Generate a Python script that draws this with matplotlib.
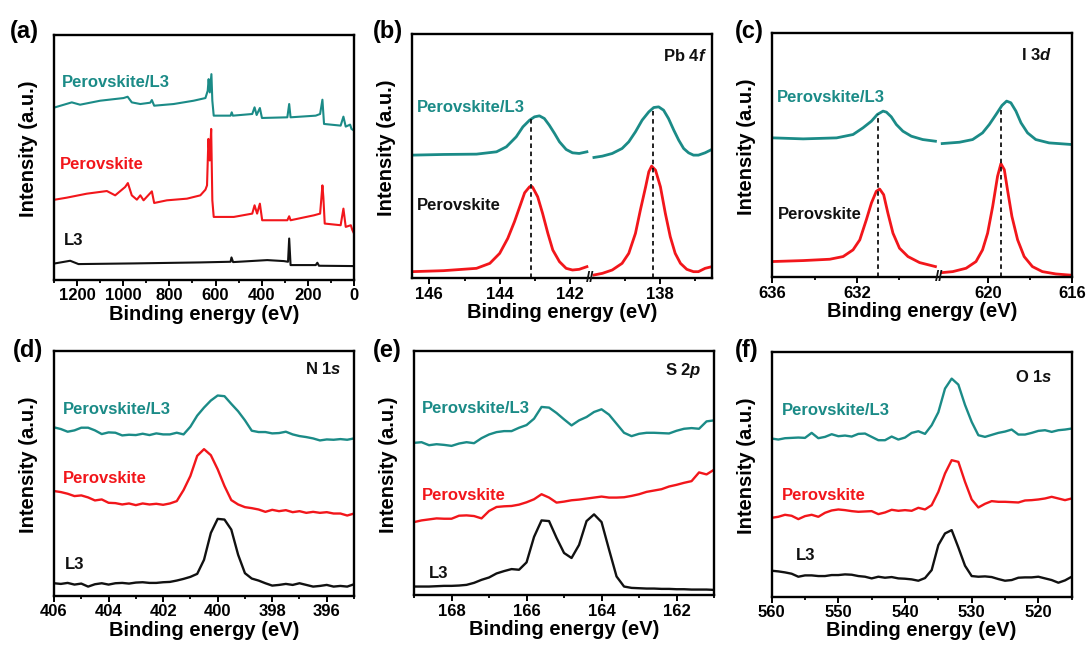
import numpy as np
import matplotlib
matplotlib.use("Agg")
import matplotlib.pyplot as plt
import matplotlib.transforms as mtransforms
from matplotlib.ticker import MultipleLocator, FixedLocator, NullLocator

TEAL = "#1b8b87"
RED = "#f2161b"
BLACK = "#111111"

plt.rcParams.update({
    "font.family": ["Liberation Sans", "DejaVu Sans"],
    "font.weight": "bold",
    "axes.labelweight": "bold",
    "mathtext.fontset": "custom",
    "mathtext.rm": "Liberation Sans:bold",
    "mathtext.it": "Liberation Sans:italic:bold",
    "mathtext.bf": "Liberation Sans:bold",
})

# ---------------- (a) survey spectra ----------------
a_teal_energy = [1296, 1223, 1187, 1100, 999, 981, 963, 926, 883, 876, 866, 782, 695, 644,
                 634, 630, 625, 618, 614, 608, 535, 530, 525, 441, 431, 422, 408, 399, 289,
                 281, 275, 166, 147, 137, 130, 58, 46, 36, 17, 11, 0]
a_teal_int = [520, 535, 528, 540, 548, 552, 535, 530, 534, 542, 525, 530, 540, 548,
              570, 605, 565, 620, 540, 495, 495, 505, 495, 500, 520, 497, 518, 488, 490,
              530, 490, 495, 500, 543, 470, 465, 492, 462, 468, 455, 450]
a_red_energy = [1296, 1245, 1158, 1071, 1035, 992, 980, 963, 941, 926, 912, 876, 866, 811,
                724, 666, 644, 637, 631, 625, 619, 614, 608, 521, 441, 431, 420, 408, 398,
                289, 281, 275, 173, 147, 137, 133, 127, 58, 46, 36, 14, 7, 0]
a_red_int = [242, 248, 260, 268, 255, 280, 292, 255, 242, 255, 240, 267, 232, 240,
             245, 255, 272, 285, 425, 360, 455, 240, 190, 190, 200, 225, 200, 230, 180,
             180, 192, 180, 195, 200, 285, 250, 170, 165, 215, 160, 165, 150, 140]
a_black_energy = [1296, 1230, 1194, 955, 666, 535, 531, 524, 376, 304, 286, 281, 275, 166, 159, 152, 0]
a_black_int = [50, 58, 48, 50, 53, 55, 68, 54, 60, 57, 55, 125, 45, 45, 52, 43, 42]

# ---------------- (b) Pb 4f ----------------
b_red_left_energy = [146.5, 145.6, 144.66, 144.28, 144.0, 143.77, 143.58, 143.43, 143.29, 143.15,
                     143.1, 143.06, 142.92, 142.78, 142.63, 142.49, 142.3, 142.11, 141.93, 141.74,
                     141.52]
b_red_left_int = [20, 23, 30, 45, 75, 120, 170, 215, 257, 275,
                  277, 273, 245, 195, 135, 85, 50, 30, 25, 27,
                  35]
b_red_right_energy = [139.87, 139.63, 139.35, 139.07, 138.88, 138.69, 138.55, 138.4, 138.31, 138.23,
                      138.12, 137.98, 137.84, 137.7, 137.56, 137.41, 137.23, 137.04, 136.9, 136.71, 136.52]
b_red_right_int = [10, 15, 25, 45, 75, 135, 205, 275, 320, 337,
                   325, 275, 195, 125, 75, 45, 27, 20, 20, 30, 35]
b_teal_left_energy = [146.5, 145.6, 144.66, 144.09, 143.81, 143.53, 143.34, 143.15, 143.01, 142.87,
                      142.73, 142.59, 142.44, 142.3, 142.11, 141.93, 141.74, 141.52]
b_teal_left_int = [370, 372, 373, 380, 395, 425, 455, 475, 485, 488,
                   480, 460, 435, 410, 387, 377, 375, 380]
b_teal_right_energy = [139.87, 139.63, 139.35, 139.07, 138.88, 138.69, 138.5, 138.31, 138.17, 138.03,
                       137.89, 137.75, 137.6, 137.46, 137.32, 137.18, 137.04, 136.9, 136.71, 136.52]
b_teal_right_int = [363, 367, 375, 390, 410, 440, 475, 500, 513, 515,
                    505, 480, 445, 415, 390, 377, 370, 370, 377, 387]
b_peaks = [143.1, 138.2]

# ---------------- (c) I 3d ----------------
c_red_left_energy = [636.03, 634.54, 633.28, 632.65, 632.18, 631.86, 631.55, 631.31, 631.08, 630.92,
                     630.73, 630.53, 630.29, 629.98, 629.58, 629.03, 628.28]
c_red_left_int = [47, 50, 54, 62, 82, 112, 172, 222, 257, 264,
                  247, 192, 132, 87, 62, 44, 32]
c_red_right_energy = [622.16, 621.66, 621.03, 620.56, 620.25, 620.01, 619.77, 619.54, 619.38, 619.22,
                      619.07, 618.86, 618.59, 618.28, 617.89, 617.42, 616.78, 616.0]
c_red_right_int = [14, 17, 27, 47, 82, 132, 212, 302, 340, 322,
                   262, 182, 112, 62, 32, 17, 10, 6]
c_teal_left_energy = [635.95, 634.54, 632.96, 632.18, 631.71, 631.31, 631.03, 630.76, 630.6, 630.37,
                      630.13, 629.82, 629.42, 628.88, 628.28]
c_teal_left_int = [417, 414, 417, 427, 447, 467, 487, 497, 494, 480,
                   457, 437, 422, 412, 407]
c_teal_right_energy = [622.16, 621.34, 620.72, 620.25, 619.93, 619.61, 619.33, 619.11, 618.91, 618.67,
                       618.43, 618.12, 617.73, 617.1, 616.0]
c_teal_right_int = [400, 404, 412, 432, 457, 487, 514, 527, 522, 497,
                    462, 432, 412, 402, 397]
c_peaks = [631.0, 619.4]

# ---------------- (d) N 1s ----------------
d_energy = np.arange(406.0, 394.99, -0.25)
d_teal = [503, 498, 490, 494, 502, 502, 494, 483, 488, 487, 479, 481, 480, 484, 480,
          485, 482, 482, 487, 482, 505, 538, 562, 583, 598, 596, 573, 551, 524, 493,
          489, 489, 485, 486, 490, 482, 477, 474, 470, 464, 467, 466, 468, 466, 470]
d_red = [313, 310, 305, 298, 300, 294, 285, 288, 278, 277, 273, 276, 271, 276, 273,
         275, 272, 276, 283, 316, 358, 418, 438, 420, 378, 328, 286, 273, 265, 262,
         258, 251, 257, 253, 256, 250, 253, 248, 251, 248, 250, 246, 246, 240, 246]
d_black = [38, 36, 39, 34, 37, 28, 35, 38, 34, 38, 39, 37, 40, 41, 39,
           39, 41, 42, 46, 51, 57, 66, 108, 188, 230, 228, 198, 123, 68, 52,
           46, 38, 31, 33, 36, 33, 38, 33, 28, 30, 33, 28, 30, 28, 35]

# ---------------- (e) S 2p ----------------
e_energy = np.arange(169.0, 160.99, -0.2)
e_teal = [454, 456, 447, 450, 448, 445, 452, 456, 453, 468, 479, 486, 489, 489,
          499, 507, 526, 561, 559, 543, 524, 506, 521, 531, 546, 554, 538, 511,
          484, 474, 481, 484, 484, 483, 482, 490, 496, 498, 496, 518, 521]
e_red = [218, 223, 226, 229, 228, 228, 237, 238, 236, 229, 251, 263, 265, 266,
         270, 277, 286, 301, 291, 276, 279, 283, 285, 288, 291, 294, 291, 291,
         292, 296, 301, 308, 312, 316, 324, 329, 335, 340, 366, 360, 374]
e_black = [26, 26, 26, 27, 28, 28, 29, 31, 37, 46, 53, 65, 72, 78,
           76, 98, 174, 223, 221, 171, 126, 111, 150, 221, 241, 218, 136, 56,
           26, 22, 21, 20, 20, 19, 19, 18, 18, 17, 17, 17, 16]

# ---------------- (f) O 1s ----------------
f_energy = np.arange(560.0, 514.5, -1.0)
f_teal = [475, 472, 476, 477, 478, 477, 492, 476, 480, 488, 482, 484, 481, 489, 490, 480,
          470, 470, 481, 472, 478, 492, 497, 489, 515, 554, 625, 655, 637, 576, 525, 485,
          480, 486, 492, 496, 502, 487, 487, 492, 498, 500, 495, 500, 502, 505]
f_red = [237, 240, 246, 243, 233, 242, 246, 240, 252, 259, 262, 260, 257, 255, 256, 257,
         248, 253, 261, 258, 260, 258, 267, 262, 275, 315, 370, 410, 405, 345, 292, 268,
         279, 287, 285, 285, 284, 283, 289, 290, 292, 295, 300, 295, 290, 295]
f_black = [78, 76, 73, 69, 60, 64, 64, 62, 62, 65, 65, 67, 66, 62, 60, 55,
           60, 57, 59, 55, 54, 52, 48, 56, 80, 155, 190, 200, 148, 93, 62, 60,
           61, 59, 53, 48, 50, 57, 58, 58, 60, 55, 50, 42, 49, 60]


def broken_scale(lo, hi, gap):
    """Axis mapping that squeezes the interval (lo, hi) into a narrow gap."""
    shift = (hi - lo) - gap

    def fwd(x):
        x = np.asarray(x, dtype=float)
        mid = lo + (x - lo) * gap / (hi - lo)
        return np.where(x >= hi, x - shift, np.where(x <= lo, x, mid))

    def inv(u):
        u = np.asarray(u, dtype=float)
        mid = lo + (u - lo) * (hi - lo) / gap
        return np.where(u >= lo + gap, u + shift, np.where(u <= lo, u, mid))

    return fwd, inv


def style(ax, xlim, ylim, major, minor):
    ax.set_xlim(*xlim)
    ax.set_ylim(*ylim)
    ax.xaxis.set_major_locator(major)
    ax.xaxis.set_minor_locator(minor)
    ax.yaxis.set_major_locator(NullLocator())
    ax.yaxis.set_minor_locator(NullLocator())
    ax.tick_params(axis="x", which="major", direction="out", length=4.5, width=1.4,
                   labelsize=12, pad=1.5)
    ax.tick_params(axis="x", which="minor", direction="out", length=2.5, width=1.3)
    for sp in ax.spines.values():
        sp.set_linewidth(1.7)
    ax.set_xlabel("Binding energy (eV)", fontsize=14.5, labelpad=1)
    ax.set_ylabel("Intensity (a.u.)", fontsize=14.5)
    ax.yaxis.set_label_coords(-0.053, 0.535)


def label(ax, x, y, s, color, ha="left"):
    ax.text(x, y, s, transform=ax.transAxes, color=color, fontsize=12,
            fontweight="bold", ha=ha, va="center")


def break_mark(ax, xb):
    tr = mtransforms.blended_transform_factory(ax.transData, ax.transAxes)
    ax.text(xb, 0.0, "//", transform=tr, ha="center", va="center", fontsize=11,
            fontweight="bold", color=BLACK, clip_on=False, zorder=5)


fig = plt.figure(figsize=(10.89, 6.5), dpi=100)
W, H = 0.2755, 0.3765
ax_a = fig.add_axes([0.0496, 0.5692, W, H])
ax_b = fig.add_axes([0.3781, 0.5718, W, H])
ax_c = fig.add_axes([0.7092, 0.5734, W, H])
ax_d = fig.add_axes([0.0496, 0.0831, W, H])
ax_e = fig.add_axes([0.3802, 0.0842, W, H])
ax_f = fig.add_axes([0.7086, 0.0820, W, H])

# (a)
ax_a.plot(a_teal_energy, a_teal_int, color=TEAL, lw=1.5)
ax_a.plot(a_red_energy, a_red_int, color=RED, lw=1.5)
ax_a.plot(a_black_energy, a_black_int, color=BLACK, lw=1.5)
style(ax_a, (1300, 0), (0, 737), MultipleLocator(200), MultipleLocator(100))
label(ax_a, 0.026, 0.807, "Perovskite/L3", TEAL)
label(ax_a, 0.020, 0.472, "Perovskite", RED)
label(ax_a, 0.033, 0.163, "L3", BLACK)

# (b)
b_lo, b_hi = 139.87, 141.52
ax_b.set_xscale("function", functions=broken_scale(b_lo, b_hi, 0.2))
for e, i, c in [(b_red_left_energy, b_red_left_int, RED),
                (b_red_right_energy, b_red_right_int, RED),
                (b_teal_left_energy, b_teal_left_int, TEAL),
                (b_teal_right_energy, b_teal_right_int, TEAL)]:
    ax_b.plot(e, i, color=c, lw=2.0)
for p, (te, ti) in zip(b_peaks, [(b_teal_left_energy, b_teal_left_int),
                                 (b_teal_right_energy, b_teal_right_int)]):
    top = np.interp(p, te[::-1], ti[::-1])
    ax_b.plot([p, p], [0, top], color=BLACK, lw=1.3, ls=(0, (2.5, 2.0)))
style(ax_b, (146.5, 136.52), (0, 735), FixedLocator([146, 144, 142, 138]),
      FixedLocator([145, 143, 139, 137]))
break_mark(ax_b, (b_lo + b_hi) / 2)
label(ax_b, 0.017, 0.697, "Perovskite/L3", TEAL)
label(ax_b, 0.017, 0.299, "Perovskite", BLACK)
label(ax_b, 0.984, 0.908, r"Pb $\mathit{4f}$", BLACK, ha="right")

# (c)
c_lo, c_hi = 622.16, 628.28
ax_c.set_xscale("function", functions=broken_scale(c_lo, c_hi, 0.32))
for e, i, c in [(c_red_left_energy, c_red_left_int, RED),
                (c_red_right_energy, c_red_right_int, RED),
                (c_teal_left_energy, c_teal_left_int, TEAL),
                (c_teal_right_energy, c_teal_right_int, TEAL)]:
    ax_c.plot(e, i, color=c, lw=2.0)
for p, (te, ti) in zip(c_peaks, [(c_teal_left_energy, c_teal_left_int),
                                 (c_teal_right_energy, c_teal_right_int)]):
    top = np.interp(p, te[::-1], ti[::-1])
    ax_c.plot([p, p], [0, top], color=BLACK, lw=1.3, ls=(0, (2.5, 2.0)))
style(ax_c, (636, 616), (0, 732), FixedLocator([636, 632, 620, 616]),
      FixedLocator([634, 630, 618]))
break_mark(ax_c, (c_lo + c_hi) / 2)
label(ax_c, 0.015, 0.734, "Perovskite/L3", TEAL)
label(ax_c, 0.019, 0.255, "Perovskite", BLACK)
label(ax_c, 0.931, 0.908, r"I $\mathit{3d}$", BLACK, ha="right")

# (d)
ax_d.plot(d_energy, d_teal, color=TEAL, lw=1.7)
ax_d.plot(d_energy, d_red, color=RED, lw=1.7)
ax_d.plot(d_energy, d_black, color=BLACK, lw=1.7)
style(ax_d, (406, 395), (0, 730), MultipleLocator(2), MultipleLocator(1))
label(ax_d, 0.031, 0.761, "Perovskite/L3", TEAL)
label(ax_d, 0.031, 0.480, "Perovskite", RED)
label(ax_d, 0.037, 0.127, "L3", BLACK)
label(ax_d, 0.960, 0.929, r"N $\mathit{1s}$", BLACK, ha="right")

# (e)
ax_e.plot(e_energy, e_teal, color=TEAL, lw=1.7)
ax_e.plot(e_energy, e_red, color=RED, lw=1.7)
ax_e.plot(e_energy, e_black, color=BLACK, lw=1.7)
style(ax_e, (169, 161), (0, 729), MultipleLocator(2), MultipleLocator(1))
label(ax_e, 0.026, 0.763, "Perovskite/L3", TEAL)
label(ax_e, 0.026, 0.406, "Perovskite", RED)
label(ax_e, 0.048, 0.090, "L3", BLACK)
label(ax_e, 0.959, 0.920, r"S $\mathit{2p}$", BLACK, ha="right")

# (f)
ax_f.plot(f_energy, f_teal, color=TEAL, lw=1.7)
ax_f.plot(f_energy, f_red, color=RED, lw=1.7)
ax_f.plot(f_energy, f_black, color=BLACK, lw=1.7)
style(ax_f, (560, 515), (0, 735), MultipleLocator(10), MultipleLocator(5))
label(ax_f, 0.033, 0.762, "Perovskite/L3", TEAL)
label(ax_f, 0.033, 0.412, "Perovskite", RED)
label(ax_f, 0.081, 0.169, "L3", BLACK)
label(ax_f, 0.936, 0.898, r"O $\mathit{1s}$", BLACK, ha="right")

# panel letters
for x, y, s in [(0.0092, 0.952, "(a)"), (0.3425, 0.952, "(b)"), (0.675, 0.952, "(c)"),
                (0.0120, 0.460, "(d)"), (0.3425, 0.460, "(e)"), (0.675, 0.460, "(f)")]:
    fig.text(x, y, s, fontsize=17, fontweight="bold", ha="left", va="center")

fig.savefig("out.png", dpi=100)
